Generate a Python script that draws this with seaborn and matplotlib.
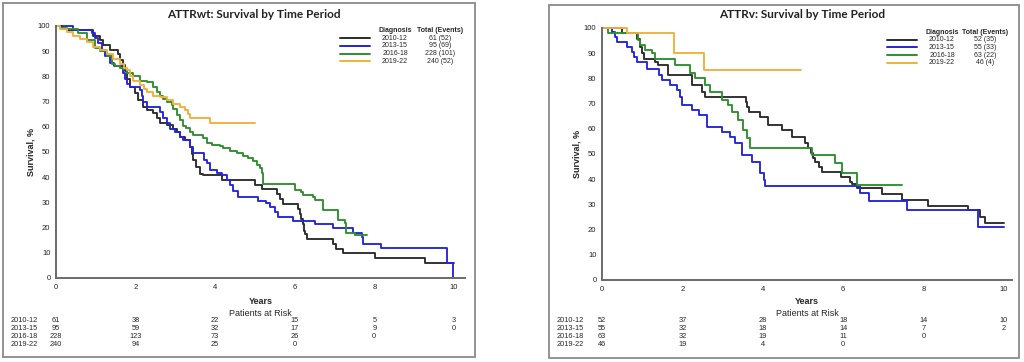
import matplotlib
matplotlib.use("Agg")
import matplotlib.pyplot as plt
import seaborn as sns
from matplotlib.lines import Line2D
from matplotlib.patches import Rectangle
from matplotlib.transforms import blended_transform_factory

sns.set_style("white")
plt.rcParams['font.family'] = ['Liberation Sans', 'DejaVu Sans']

# ---- data ----
periods = ['2010-12', '2013-15', '2016-18', '2019-22']
colors = ['#2b2b2b', '#2424dc', '#2f8f2f', '#f2b03a']
risk_years = [0, 2, 4, 6, 8, 10]

# ATTRwt
wt_2010_t = [0, 0.15, 0.3, 0.94, 1.11, 1.19, 1.36, 1.57, 1.61, 1.69, 1.74, 1.78, 1.85, 1.98, 2.07, 2.19,
             2.28, 2.44, 2.53, 2.61, 2.78, 2.95, 3.03, 3.12, 3.24, 3.37, 3.41, 3.45, 3.53, 3.62, 3.70,
             4.16, 5.0, 5.17, 5.55, 5.63, 5.71, 6.09, 6.13, 6.17, 6.21, 6.24, 6.26, 6.30, 6.97, 7.05,
             7.22, 8.02, 9.27, 10.0]
wt_2010_s = [100, 99, 98.4, 96.2, 94.4, 92.4, 90.6, 89, 86.5, 84.5, 82, 79, 75.9, 73.3, 70.6, 68,
             66.7, 65.3, 63.4, 61.4, 60.7, 59.3, 58, 56, 54.7, 52, 49.4, 46.7, 44, 41.4, 40.7,
             38.7, 37, 35.3, 33.3, 31.3, 29.4, 27.4, 25.4, 23.4, 21.4, 18.8, 17.5, 15.5, 13.5, 11.5,
             9.8, 7.8, 5.8, 5.8]
wt_2013_t = [0, 0.43, 0.9, 0.98, 1.06, 1.15, 1.23, 1.36, 1.45, 1.69, 1.73, 1.78, 1.86, 2.11, 2.15, 2.19,
             2.28, 2.61, 2.70, 2.78, 2.86, 2.99, 3.12, 3.2, 3.37, 3.45, 3.72, 3.80, 3.87, 4.04, 4.16,
             4.3, 4.37, 4.45, 4.58, 5.08, 5.29, 5.38, 5.50, 5.59, 5.96, 6.51, 6.97, 7.47, 7.68, 7.72,
             8.18, 9.82, 9.99]
wt_2013_s = [100, 98.4, 97.1, 95.1, 93.2, 90.6, 88, 85.4, 84.1, 81.5, 79, 77, 75.7, 74.5, 72.4, 69.8,
             67.8, 65.8, 63.5, 61.4, 59.3, 58, 56, 54.7, 52, 49.5, 47, 45.5, 42.9, 41.5, 40.9,
             38.9, 36.9, 34.6, 32, 30.5, 29.6, 28.3, 26.3, 24.1, 22.8, 21.3, 19.7, 17.7, 16.4, 13.5,
             12, 5.8, 0]
wt_2016_t = [0, 0.1, 0.27, 0.56, 0.77, 0.98, 1.11, 1.27, 1.40, 1.48, 1.61, 1.69, 1.78, 1.94, 2.11, 2.28,
             2.44, 2.53, 2.61, 2.70, 2.78, 2.91, 2.95, 3.03, 3.12, 3.20, 3.28, 3.37, 3.45, 3.70, 3.79,
             3.91, 4.12, 4.20, 4.37, 4.54, 4.71, 4.83, 4.96, 5.04, 5.13, 5.17, 5.21, 6.01, 6.17, 6.21,
             6.46, 6.51, 6.72, 7.09, 7.26, 7.30, 7.51, 7.81]
wt_2016_s = [100, 99.3, 98.8, 97.1, 94.6, 91.3, 90, 88, 84.8, 84, 83.5, 82.9, 81.5, 80.2, 78.3, 77.6,
             75.7, 73.7, 72.4, 71, 69.8, 68.5, 67.2, 64.6, 62.7, 60.5, 59.4, 58.1, 56.7, 55.5, 53.5,
             52.9, 52.2, 51.6, 50.5, 49.8, 48.5, 47.5, 46.4, 45, 43.5, 41.5, 37.3, 34.9, 34.2, 32.9,
             32.3, 31, 27, 23, 21.7, 17.7, 16.9, 16.9]
wt_2019_t = [0, 0.1, 0.27, 0.43, 0.6, 0.77, 0.94, 1.11, 1.27, 1.44, 1.61, 1.7, 1.78, 1.86, 1.94, 2.11,
             2.2, 2.28, 2.44, 2.61, 2.78, 2.95, 3.12, 3.24, 3.32, 3.37, 3.87, 5.0]
wt_2019_s = [100, 99, 97.5, 96.2, 94.8, 93.5, 91.6, 90.3, 89, 87, 85, 83.5, 82.4, 80, 78, 76.4,
             75, 73.7, 72.4, 71.7, 70.5, 69.2, 67.8, 66.5, 65.2, 63.6, 61.4, 61.4]

# ATTRv
v_2010_t = [0, 0.5, 0.88, 0.95, 1.0, 1.05, 1.32, 1.40, 1.65, 2.24, 2.48, 2.56, 3.57, 3.6, 3.65, 3.93,
            4.13, 4.47, 4.72, 5.05, 5.12, 5.2, 5.25, 5.3, 5.4, 5.47, 5.94, 6.17, 6.21, 6.34, 6.96,
            7.46, 8.12, 9.11, 9.40, 9.53, 10.0]
v_2010_s = [100, 97.9, 95.6, 92.6, 90, 87.6, 86.5, 85.3, 81.3, 77.4, 74.7, 72.7, 70.7, 68.5, 66.8, 64.5,
            61.4, 59.5, 56.9, 54.2, 52.3, 50.3, 48.3, 46.9, 45, 43, 41, 39, 38.1, 36.4, 34.1,
            31.7, 29.4, 27.8, 24.9, 22.5, 22.5]
v_2013_t = [0, 0.25, 0.33, 0.37, 0.62, 0.75, 0.79, 0.87, 1.12, 1.41, 1.49, 1.70, 1.87, 1.95, 1.99, 2.24,
            2.41, 2.61, 2.99, 3.19, 3.32, 3.48, 3.73, 3.94, 4.02, 4.06, 6.43, 6.65, 7.6, 9.36, 10.0]
v_2013_s = [100, 98.4, 96.4, 94.4, 92.5, 90.5, 88.4, 86.5, 83.9, 81.2, 79.3, 77.3, 75.3, 72.7, 69.4, 67.5,
            65.5, 60.9, 58.9, 56.9, 54.2, 49.6, 47, 42.4, 39.7, 37.3, 34.4, 31.3, 27.8, 20.9, 20.9]
v_2016_t = [0, 0.15, 0.9, 0.95, 1.07, 1.24, 1.32, 1.82, 2.19, 2.31, 2.56, 2.69, 2.98, 3.14, 3.23, 3.39,
            3.52, 3.60, 3.68, 5.22, 5.8, 5.96, 6.35, 7.46]
v_2016_s = [100, 97.9, 95.2, 93.3, 91.3, 90, 87.6, 85.3, 82, 80, 77.4, 74.7, 71.4, 69.4, 66.8, 63.5,
            59.5, 56.2, 52.5, 49.6, 46.3, 42.6, 37.7, 37.7]
v_2019_t = [0, 0.62, 1.78, 2.53, 4.96]
v_2019_s = [100, 97.9, 89.9, 83.3, 83.3]

wt_totals = ['61 (52)', '95 (69)', '228 (101)', '240 (52)']
v_totals = ['52 (35)', '55 (33)', '63 (22)', '46 (4)']

wt_risk_2010 = [61, 38, 22, 15, 5, 3]
wt_risk_2013 = [95, 59, 32, 17, 9, 0]
wt_risk_2016 = [228, 123, 73, 26, 0]
wt_risk_2019 = [240, 94, 25, 0]
v_risk_2010 = [52, 37, 28, 18, 14, 10]
v_risk_2013 = [55, 32, 18, 14, 7, 2]
v_risk_2016 = [63, 32, 19, 11, 0]
v_risk_2019 = [46, 19, 4, 0]

W, H = 1024, 362
fig = plt.figure(figsize=(W / 100, H / 100), dpi=100)


def fx(px):
    return px / W


def fy(py):
    return 1 - py / H


def panel(box, ax_px, xmax, title, title_x, curves, totals, risk, leg, lab_x):
    # outer frame
    bx0, by0, bx1, by1 = box
    fig.add_artist(Rectangle((fx(bx0), fy(by1)), fx(bx1 - bx0), (by1 - by0) / H,
                             transform=fig.transFigure, fill=False, ec='#8a8a8a', lw=1.3))
    x0, x1, ytop, ybot = ax_px
    ax = fig.add_axes([fx(x0), fy(ybot), fx(x1 - x0), (ybot - ytop) / H])
    for (t, s), c in zip(curves, colors):
        sns.lineplot(x=t, y=s, drawstyle='steps-post', estimator=None, sort=False,
                     color=c, lw=1.35, ax=ax, clip_on=False)
    ax.set_xlim(0, xmax)
    ax.set_ylim(0, 100)
    ax.set_xticks(risk_years)
    ax.set_yticks(range(0, 101, 10))
    ax.tick_params(labelsize=5.5, length=2, width=0.8, color='#666666', pad=2, labelcolor='#222222')
    for sp in ['top', 'right']:
        ax.spines[sp].set_visible(False)
    for sp in ['left', 'bottom']:
        ax.spines[sp].set_color('#6a6a6a')
        ax.spines[sp].set_linewidth(1.4)
    ax.set_xlabel('')
    ax.set_ylabel('Survival, %', fontsize=6.5, fontweight='bold', labelpad=1.5)
    ax.set_facecolor('none')

    cx = (x0 + x1) / 2
    fig.text(fx(title_x), fy(15), title, fontsize=8.5, fontweight='bold', ha='center', va='center',
             family=['Lato', 'DejaVu Sans'], color='#222222')
    fig.text(fx(cx), fy(301), 'Years', fontsize=6.5, fontweight='bold', ha='center', va='center')
    fig.text(fx(cx), fy(313), 'Patients at Risk', fontsize=6.5, ha='center', va='center')

    # risk table
    tr = blended_transform_factory(ax.transData, fig.transFigure)
    for i, (p, row) in enumerate(zip(periods, risk)):
        yy = fy(321 + 8 * i)
        fig.text(fx(lab_x), yy, p, fontsize=5.3, ha='left', va='center')
        for xv, n in zip(risk_years, row):
            ax.text(xv, yy, str(n), fontsize=5.3, ha='center', va='center', transform=tr)

    # legend
    lx0, lx1, dx, tx, hy = leg
    fig.text(fx(dx), fy(hy), 'Diagnosis', fontsize=5, fontweight='bold', ha='center', va='center')
    fig.text(fx(tx), fy(hy), 'Total (Events)', fontsize=5, fontweight='bold', ha='center', va='center')
    for i, (p, tot, c) in enumerate(zip(periods, totals, colors)):
        yy = fy(hy + 7.7 * (i + 1))
        fig.add_artist(Line2D([fx(lx0), fx(lx1)], [yy, yy], transform=fig.transFigure, color=c, lw=1.4))
        fig.text(fx(dx), yy, p, fontsize=5, ha='center', va='center')
        fig.text(fx(tx), yy, tot, fontsize=5, ha='center', va='center')
    return ax


panel((3, 3, 475, 357), (56, 465, 26, 278), 10.28, 'ATTRwt: Survival by Time Period', 254,
      [(wt_2010_t, wt_2010_s), (wt_2013_t, wt_2013_s), (wt_2016_t, wt_2016_s), (wt_2019_t, wt_2019_s)],
      wt_totals, [wt_risk_2010, wt_risk_2013, wt_risk_2016, wt_risk_2019],
      (340, 370, 395, 440, 30.5), 11)

panel((549, 5, 1019, 358), (602, 1012, 28, 280), 10.2, 'ATTRv: Survival by Time Period', 802,
      [(v_2010_t, v_2010_s), (v_2013_t, v_2013_s), (v_2016_t, v_2016_s), (v_2019_t, v_2019_s)],
      v_totals, [v_risk_2010, v_risk_2013, v_risk_2016, v_risk_2019],
      (887, 917, 942, 985, 32), 557)

fig.savefig('out.png', dpi=100)
